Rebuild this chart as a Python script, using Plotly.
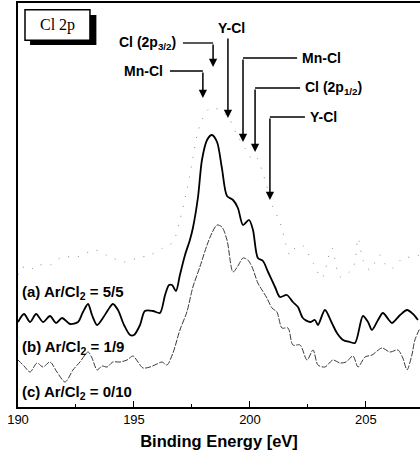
import plotly.graph_objects as go

# ---------------- data ----------------
# (a) Ar/Cl2 = 5/5  (solid)
a_x = [190.00, 190.26, 190.52, 190.78, 191.08, 191.38, 191.64, 191.90, 192.24, 192.59,
       192.80, 193.02, 193.19, 193.41, 193.66, 193.88, 194.09, 194.31, 194.57, 194.83,
       195.00, 195.26, 195.47, 195.82, 196.12, 196.34, 196.51, 196.64, 196.81, 196.98,
       197.20, 197.41, 197.54, 197.76, 197.93, 198.15, 198.36, 198.58, 198.79, 199.01,
       199.27, 199.48, 199.70, 199.96, 200.13, 200.34, 200.56, 200.78, 201.08, 201.29,
       201.59, 201.85, 202.07, 202.28, 202.59, 202.80, 202.93, 203.23, 203.53, 203.75,
       204.01, 204.31, 204.53, 204.87, 205.09, 205.26, 205.52, 205.73, 205.99, 206.12,
       206.47, 206.77, 207.03, 207.24]
a_y = [85, 93, 85, 93, 85, 91, 84, 89, 83, 85,
       95, 103, 92, 82, 89, 97, 103, 97, 82, 72,
       72, 82, 96, 96, 94, 112, 122, 122, 116, 132,
       152, 167, 179, 210, 247, 267, 272, 265, 239, 211,
       207, 199, 182, 187, 177, 149, 146, 135, 120, 110,
       112, 105, 100, 89, 85, 87, 82, 97, 84, 74,
       67, 65, 64, 91, 85, 77, 87, 94, 87, 84,
       92, 97, 93, 87]

# (b) Ar/Cl2 = 1/9  (thin dashed)
b_x = [190.00, 190.26, 190.52, 190.82, 191.08, 191.38, 191.68, 192.03, 192.37, 192.67,
       193.02, 193.19, 193.41, 193.62, 193.84, 194.09, 194.40, 194.70, 194.96, 195.17,
       195.39, 195.69, 195.99, 196.21, 196.42, 196.68, 196.98, 197.28, 197.54, 197.84,
       198.15, 198.36, 198.58, 198.79, 199.01, 199.27, 199.48, 199.70, 199.91, 200.09,
       200.34, 200.52, 200.73, 200.95, 201.16, 201.38, 201.64, 201.85, 202.16, 202.46,
       202.72, 202.93, 203.23, 203.58, 203.88, 204.14, 204.44, 204.66, 204.96, 205.26,
       205.69, 206.03, 206.38, 206.59, 206.77, 206.98, 207.11, 207.33]
b_y = [47, 41, 35, 44, 40, 45, 35, 25, 37, 45,
       55, 49, 37, 41, 40, 45, 45, 47, 51, 45,
       39, 40, 43, 45, 42, 54, 77, 95, 120, 140,
       162, 174, 182, 180, 167, 135, 141, 149, 147, 140,
       124, 117, 109, 99, 95, 79, 79, 62, 62, 47,
       57, 42, 40, 47, 44, 45, 51, 40, 50, 52,
       59, 55, 57, 49, 37, 52, 67, 79]

# (c) Ar/Cl2 = 0/10  (sparse dots)
c_x = [190.00, 190.17, 190.52, 190.82, 191.38, 191.90, 192.54, 193.32, 193.97, 194.61,
       195.13, 195.69, 196.25, 196.68, 196.98, 197.28, 197.54, 197.72, 197.97, 198.28,
       198.71, 199.14, 199.44, 199.78, 200.00, 200.22, 200.65, 200.95, 201.29, 201.72,
       201.85, 202.24, 202.72, 203.10, 203.53, 203.88, 204.44, 204.66, 204.87, 205.17,
       205.60, 205.91, 206.16, 206.59, 207.03, 207.33]
c_y = [132, 140, 137, 142, 142, 150, 150, 157, 150, 145,
       149, 152, 159, 165, 187, 217, 249, 272, 289, 299,
       297, 287, 272, 259, 250, 252, 227, 202, 185, 152,
       157, 162, 144, 129, 159, 130, 139, 169, 147, 137,
       152, 140, 139, 149, 150, 152]

x_ticks = [190, 195, 200, 205]
x_tick_text = ["190", "195", "200", "205"]

series_labels = ["(a) Ar/Cl<sub>2</sub> = 5/5", "(b) Ar/Cl<sub>2</sub> = 1/9",
                 "(c) Ar/Cl<sub>2</sub> = 0/10"]
series_label_y = [115, 60, 15]

# component markers: label, energy (eV), elbow/top y, tip y, label side, horizontal end
comp_labels = ["Cl (2p<sub>3/2</sub>)", "Mn-Cl", "Y-Cl", "Mn-Cl",
               "Cl (2p<sub>1/2</sub>)", "Y-Cl"]
comp_energy = [198.41, 197.97, 199.05, 199.70, 200.22, 200.86]
comp_elbow_y = [364, 336, 370, 349, 319, 290]
comp_tip_y = [340, 309, 289, 265, 255, 207]
comp_side = ["left", "left", "top", "right", "right", "right"]
comp_hend = [197.11, 196.55, None, 202.03, 202.16, 202.37]

FONT = "Liberation Sans, Arial, sans-serif"

fig = go.Figure()
fig.add_trace(go.Scatter(x=c_x, y=c_y, mode="lines",
                         line=dict(color="#8a8a8a", width=1, dash="1px,9px", shape="spline", smoothing=0.8),
                         hoverinfo="skip", showlegend=False))
fig.add_trace(go.Scatter(x=b_x, y=b_y, mode="lines",
                         line=dict(color="#3a3a3a", width=1, dash="6px,1.5px", shape="spline", smoothing=0.8),
                         hoverinfo="skip", showlegend=False))
fig.add_trace(go.Scatter(x=a_x, y=a_y, mode="lines",
                         line=dict(color="#000000", width=1.8, shape="spline", smoothing=0.8),
                         hoverinfo="skip", showlegend=False))

annotations = []
shapes = []
for lab, yv in zip(series_labels, series_label_y):
    annotations.append(dict(x=190.1, y=yv, xref="x", yref="y", text=lab, showarrow=False,
                            xanchor="left", yanchor="middle",
                            font=dict(family=FONT, size=15, color="black", weight="bold")))

for lab, e, ey, ty, side, hend in zip(comp_labels, comp_energy, comp_elbow_y, comp_tip_y,
                                       comp_side, comp_hend):
    annotations.append(dict(x=e, y=ty, ax=e, ay=ey, xref="x", yref="y", axref="x", ayref="y",
                            text="", showarrow=True, arrowhead=2, arrowsize=1.1,
                            arrowwidth=1.5, arrowcolor="black", standoff=0, startstandoff=0))
    if side == "top":
        annotations.append(dict(x=e + 0.17, y=ey + 9, xref="x", yref="y", text=lab,
                                showarrow=False, xanchor="center", yanchor="middle",
                                font=dict(family=FONT, size=14, color="black", weight="bold")))
    else:
        shapes.append(dict(type="line", xref="x", yref="y", x0=hend, x1=e, y0=ey, y1=ey,
                           line=dict(color="black", width=1.3)))
        if side == "left":
            annotations.append(dict(x=hend - 0.2, y=ey, xref="x", yref="y", text=lab,
                                    showarrow=False, xanchor="right", yanchor="middle",
                                    font=dict(family=FONT, size=14, color="black", weight="bold")))
        else:
            annotations.append(dict(x=hend + 0.13, y=ey, xref="x", yref="y", text=lab,
                                    showarrow=False, xanchor="left", yanchor="middle",
                                    font=dict(family=FONT, size=14, color="black", weight="bold")))

# "Cl 2p" framed box with shadow
shapes.append(dict(type="rect", xref="paper", yref="paper", x0=0.030, x1=0.195, y0=0.896, y1=0.970,
                   fillcolor="black", line=dict(color="black", width=0)))
shapes.append(dict(type="rect", xref="paper", yref="paper", x0=0.0174, x1=0.179, y0=0.908, y1=0.983,
                   fillcolor="white", line=dict(color="black", width=1.5)))
annotations.append(dict(x=0.098, y=0.946, xref="paper", yref="paper", text="Cl 2p", showarrow=False,
                        xanchor="center", yanchor="middle",
                        font=dict(family="Liberation Serif, Times New Roman, serif", size=16, color="black")))

fig.update_layout(
    width=420, height=459,
    margin=dict(l=18, r=0, t=3, b=52),
    paper_bgcolor="white", plot_bgcolor="white",
    annotations=annotations, shapes=shapes,
    xaxis=dict(range=[190, 207.33], tickvals=x_ticks, ticktext=x_tick_text,
               ticks="inside", ticklen=6, tickwidth=1.2, tickcolor="black",
               minor=dict(dtick=2.5, tick0=190, ticks="inside", ticklen=3, tickcolor="black"),
               showline=True, linecolor="black", linewidth=1.5, mirror=True,
               showgrid=False, zeroline=False,
               tickfont=dict(family=FONT, size=13, color="black"),
               title=dict(text="Binding Energy [eV]", standoff=9,
                          font=dict(family=FONT, size=16.5, color="black", weight="bold"))),
    yaxis=dict(range=[0, 404], showticklabels=False, ticks="",
               showline=True, linecolor="black", linewidth=1.5,
               showgrid=False, zeroline=False),
)

fig.write_html("out.html")
